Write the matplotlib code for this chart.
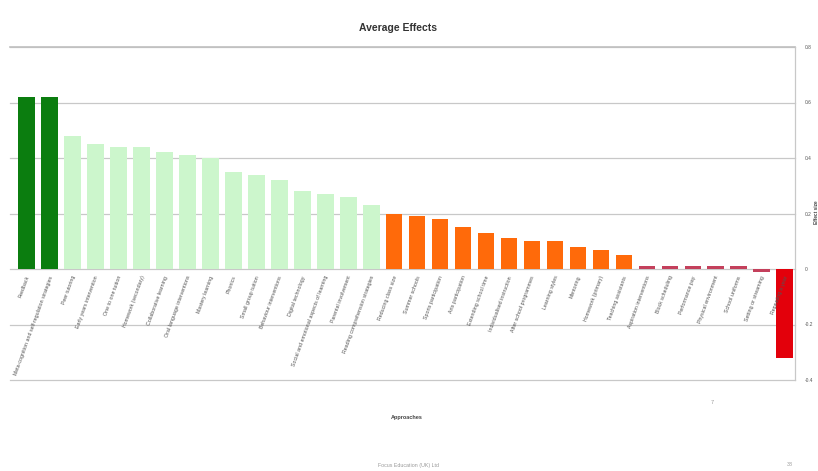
import matplotlib
matplotlib.use("Agg")
import matplotlib.pyplot as plt
from matplotlib.transforms import offset_copy

plt.rcParams['font.family'] = ['Liberation Sans', 'DejaVu Sans']

# Toolkit approaches and their average effect sizes
approaches = [
    "Feedback",
    "Meta-cognition and self-regulation strategies",
    "Peer tutoring",
    "Early years intervention",
    "One to one tuition",
    "Homework (secondary)",
    "Collaborative learning",
    "Oral language interventions",
    "Mastery learning",
    "Phonics",
    "Small group tuition",
    "Behaviour interventions",
    "Digital technology",
    "Social and emotional aspects of learning",
    "Parental involvement",
    "Reading comprehension strategies",
    "Reducing class size",
    "Summer schools",
    "Sports participation",
    "Arts participation",
    "Extending school time",
    "Individualised instruction",
    "After school programmes",
    "Learning styles",
    "Mentoring",
    "Homework (primary)",
    "Teaching assistants",
    "Aspiration interventions",
    "Block scheduling",
    "Performance pay",
    "Physical environment",
    "School uniforms",
    "Setting or streaming",
    "Repeating a year",
]

effects = [
    0.62, 0.62,
    0.48, 0.45, 0.44, 0.44, 0.42, 0.41, 0.40, 0.35, 0.34, 0.32, 0.28, 0.27, 0.26, 0.23,
    0.20, 0.19, 0.18, 0.15, 0.13, 0.11, 0.10, 0.10, 0.08, 0.07, 0.05,
    0.01, 0.01, 0.01, 0.01, 0.01, -0.01,
    -0.32,
]

# Impact bands: number of approaches in each, in order
band_sizes = [2, 14, 11, 6, 1]
band_colors = ["#0b7d0f", "#ccf6cc", "#ff6a0a", "#c4405c", "#e3000b"]

yticks = [0.8, 0.6, 0.4, 0.2, 0, -0.2, -0.4]
ytick_labels = ["0.8", "0.6", "0.4", "0.2", "0", "-0.2", "-0.4"]

colors = []
for size, col in zip(band_sizes, band_colors):
    colors += [col] * size

fig = plt.figure(figsize=(8.18, 4.71), dpi=100)
ax = fig.add_axes([10 / 818, (471 - 380) / 471, 785 / 818, 333 / 471])

x = list(range(len(effects)))
ax.bar(x, effects, width=0.72, color=colors, zorder=3)

ax.set_xlim(-0.73, len(effects) - 0.55)
ax.set_ylim(-0.4, 0.8)
ax.set_yticks(yticks)
ax.set_yticklabels(ytick_labels)
ax.yaxis.tick_right()
ax.tick_params(axis='y', length=0, pad=7, labelsize=3.5, labelcolor="#555555")
ax.set_xticks([])
for yv in yticks:
    ax.axhline(yv, color="#c8c8c8", linewidth=0.9, zorder=0, clip_on=False)
for side in ("left", "top", "bottom"):
    ax.spines[side].set_visible(False)
ax.spines["right"].set_color("#c8c8c8")
ax.spines["right"].set_linewidth(0.9)
ax.axhline(0.8, color="#c0c0c0", linewidth=1.2, zorder=1, clip_on=False)

fig.text(816 / 818, 1 - 212 / 471, "Effect size", rotation=90, ha='center',
         va='center', fontsize=3.4, fontweight='bold', color="#444444")

# Category names, slanted below the zero line
lab_tr = offset_copy(ax.transData, fig=fig, x=1.5, y=-7, units='dots')
for xi, name in zip(x, approaches):
    ax.text(xi, 0, name, transform=lab_tr, rotation=70, ha='right', va='center',
            rotation_mode='anchor', fontsize=3.8, color="#555555")

fig.text(407 / 818, 1 - 418 / 471, "Approaches", ha='center', va='center',
         fontsize=4, fontweight='bold', color="#444444")
fig.text(398 / 818, 1 - 28 / 471, "Average Effects", ha='center', va='center',
         fontsize=7.5, fontweight='bold', color="#333333")

fig.text(712 / 818, 1 - 402 / 471, "7", ha='center', va='center',
         fontsize=4, color="#999999")
fig.text(408 / 818, 1 - 465 / 471, "Focus Education (UK) Ltd", ha='center',
         va='center', fontsize=3.8, color="#999999")
fig.text(790 / 818, 1 - 465 / 471, "38", ha='center', va='center',
         fontsize=3.8, color="#999999")

fig.savefig("out.png", dpi=100)
